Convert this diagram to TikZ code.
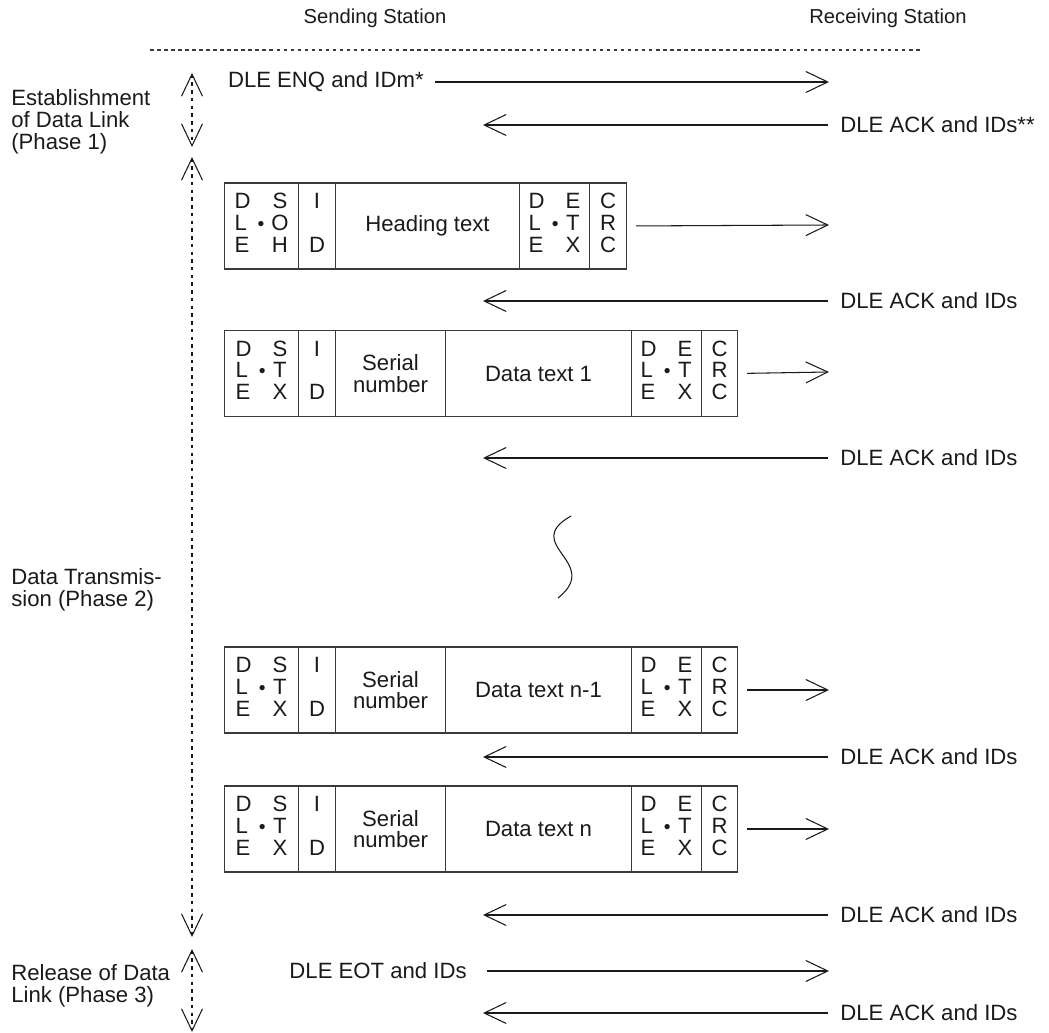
\documentclass[tikz,border=0pt]{standalone}
\usepackage{fontspec}
\setmainfont{Liberation Sans}
\definecolor{fInk}{HTML}{1A1A1A}
\definecolor{fRule}{HTML}{3A3A3A}
\usetikzlibrary{arrows.meta}
\tikzset{
 every node/.style={font=\fontsize{12.6}{12.4}\selectfont, text=fInk},
 cellbox/.style={draw=fRule, line width=0.6pt, anchor=west, inner sep=0pt, minimum height=1.72cm, align=center},
 msgarrow/.style={-{Straight Barb[length=0.44cm, width=0.42cm]}, line width=0.6pt, fInk},
 framearrow/.style={msgarrow, shorten <=0.18cm},
 phasearrow/.style={{Straight Barb[length=0.44cm, width=0.42cm]}-{Straight Barb[length=0.44cm, width=0.42cm]}, line width=0.6pt, fInk, dash pattern=on 2pt off 2.4pt},
 acklabel/.style={anchor=west, inner xsep=0.24cm, inner ysep=0pt},
 phaselabel/.style={anchor=west, align=left, inner sep=0pt},
 stationlabel/.style={font=\fontsize{11.5}{12}\selectfont}
}
\newcommand{\vstack}[3]{\begin{tabular}{@{}c@{}}#1\\#2\\#3\end{tabular}}
\newcommand{\dlestack}[3]{\begin{tabular}{@{}l@{\hspace{4pt}}c@{\hspace{4pt}}c@{}}D&&#1\\L&{\fontsize{11}{11}\selectfont\textbullet}&#2\\E&&#3\end{tabular}}
\newcommand{\fcell}[5]{%
 \node[cellbox, minimum width=#3*0.02cm] (#4) at (#1,#2) {#5};}
\newcommand{\dataframe}[3]{%
 \fcell{224}{#2}{74}{#1s}{\dlestack{S}{T}{X}}
 \fcell{298}{#2}{37}{#1i}{\vstack{I}{}{D}}
 \fcell{335}{#2}{110}{#1n}{Serial\\number}
 \fcell{445}{#2}{186}{#1t}{#3}
 \fcell{631}{#2}{70}{#1e}{\dlestack{E}{T}{X}}
 \fcell{701}{#2}{36}{#1c}{\vstack{C}{R}{C}}}

\begin{document}
\begin{tikzpicture}[x=0.02cm, y=-0.02cm]
\useasboundingbox (0,0) rectangle (1049,1033);
% stations
\node[stationlabel] (send) at (375,18) {Sending Station};
\node[stationlabel] (recv) at (888,18) {Receiving Station};
\coordinate (rulel) at (150,50);
\coordinate (ruler) at (920,50);
\draw[fRule, line width=0.6pt, dash pattern=on 2pt off 2pt] (rulel) -- (ruler);

% phases
\node[phaselabel] (ph1) at (11,122) {Establishment\\of Data Link\\(Phase 1)};
\node[phaselabel] (ph2) at (11,590) {Data Transmis-\\sion (Phase 2)};
\node[phaselabel] (ph3) at (11,986) {Release of Data\\Link (Phase 3)};
\coordinate (p1top) at (192,73);
\coordinate (p1bot) at (192,147);
\coordinate (p2top) at (192,157);
\coordinate (p2bot) at (192,937);
\coordinate (p3top) at (192,949);
\coordinate (p3bot) at (192,1032);
\draw[phasearrow] (p1top) -- (p1bot);
\draw[phasearrow] (p2top) -- (p2bot);
\draw[phasearrow] (p3top) -- (p3bot);

% phase 1
\node[anchor=east, inner xsep=0.22cm, inner ysep=0pt] (enq) at (435,82) {DLE ENQ and IDm*};
\coordinate (enqtip) at (829,82);
\draw[msgarrow] (enq.east) -- (enqtip);
\node[acklabel] (ack0) at (828,125) {DLE ACK and IDs**};
\coordinate (ack0tip) at (483,125);
\draw[msgarrow] (ack0.west) -- (ack0tip);

% phase 2: heading frame
\fcell{224}{226}{74}{hds}{\dlestack{S}{O}{H}}
\fcell{298}{226}{37}{hdi}{\vstack{I}{}{D}}
\fcell{335}{226}{184}{hdt}{Heading text}
\fcell{519}{226}{70}{hde}{\dlestack{E}{T}{X}}
\fcell{589}{226}{37}{hdc}{\vstack{C}{R}{C}}
\coordinate (hdtip) at (829,225);
\draw[framearrow] (hdc.east) -- (hdtip);
\node[acklabel] (ack1) at (828,301) {DLE ACK and IDs};
\coordinate (ack1tip) at (483,301);
\draw[msgarrow] (ack1.west) -- (ack1tip);

% data text 1
\dataframe{da}{373.5}{Data text 1}
\coordinate (datip) at (829,372);
\draw[framearrow] (dac.east) -- (datip);
\node[acklabel] (ack2) at (828,458) {DLE ACK and IDs};
\coordinate (ack2tip) at (483,458);
\draw[msgarrow] (ack2.west) -- (ack2tip);

% gap
\draw[fInk, line width=0.6pt] (571,516) .. controls (520,545) and (603,562) .. (558,598);

% data text n-1
\dataframe{db}{690}{Data text n-1}
\coordinate (dbtip) at (829,690);
\draw[framearrow] (dbc.east) -- (dbtip);
\node[acklabel] (ack3) at (828,757) {DLE ACK and IDs};
\coordinate (ack3tip) at (483,757);
\draw[msgarrow] (ack3.west) -- (ack3tip);

% data text n
\dataframe{dc}{829}{Data text n}
\coordinate (dctip) at (829,829);
\draw[framearrow] (dcc.east) -- (dctip);
\node[acklabel] (ack4) at (828,915) {DLE ACK and IDs};
\coordinate (ack4tip) at (483,915);
\draw[msgarrow] (ack4.west) -- (ack4tip);

% phase 3
\node[anchor=east, inner xsep=0.4cm, inner ysep=0pt] (eot) at (487,971) {DLE EOT and IDs};
\coordinate (eottip) at (829,971);
\draw[msgarrow] (eot.east) -- (eottip);
\node[acklabel] (ack5) at (828,1013) {DLE ACK and IDs};
\coordinate (ack5tip) at (483,1013);
\draw[msgarrow] (ack5.west) -- (ack5tip);
\end{tikzpicture}
\end{document}
